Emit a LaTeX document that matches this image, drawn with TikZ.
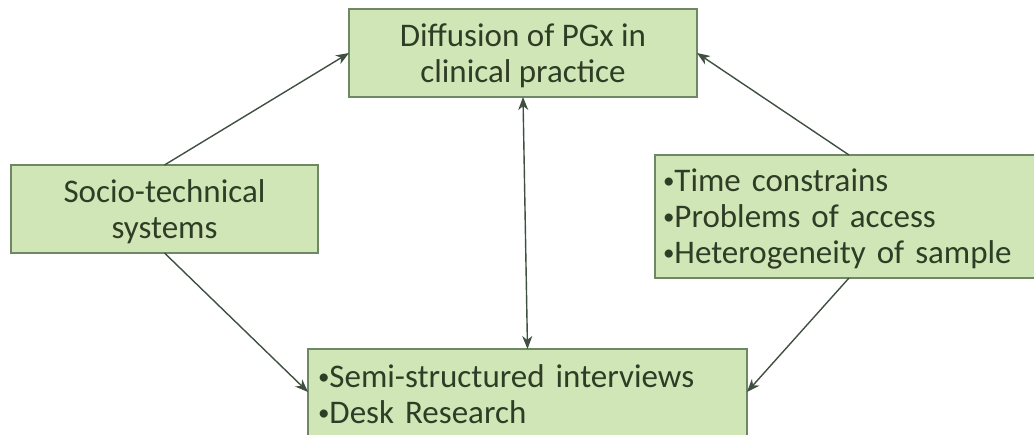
\documentclass[tikz,border=0pt]{standalone}
\usepackage{fontspec}
\setmainfont{Carlito}
\usetikzlibrary{arrows.meta,calc}
\definecolor{boxfill}{HTML}{D1E6B6}
\definecolor{boxline}{HTML}{6E8764}
\definecolor{ink}{HTML}{2E3D25}
\definecolor{linkc}{HTML}{3F4F40}
\newcommand{\boxtext}{\fontsize{33}{36}\selectfont}
% small list bullet, set a little above the baseline
\newcommand{\dotmark}{{\fontsize{23}{0}\selectfont\raisebox{2.5pt}{•}}}
\begin{document}
\begin{tikzpicture}[x=1pt,y=-1pt,
  box/.style={draw=boxline, line width=1.5pt, fill=boxfill, text=ink,
              inner sep=0pt, outer sep=0pt, font=\boxtext},
  tip/.tip={Stealth[length=13pt,width=10pt,inset=4pt]},
  link/.style={draw=linkc, line width=1.4pt, -tip},
]
\useasboundingbox (0,0) rectangle (1034,435);
\clip (0,0) rectangle (1034,435);

% boxes
\node[box, minimum width=348pt, minimum height=88pt, align=center]
  (diff) at (523,53) {\rule{0pt}{28pt}Diffusion of PGx in\\clinical practice};
\node[box, minimum width=307pt, minimum height=88pt, align=center]
  (soc) at (164.5,209) {\rule{0pt}{28pt}Socio-technical\\systems};
\node[box, minimum width=388pt, minimum height=123pt, inner xsep=8pt,
      text width=372pt, align=left]
  (lim) at (849,216.5) {\rule{0pt}{27pt}\dotmark Time constrains\\\dotmark Problems of access\\\dotmark Heterogeneity of sample};
\node[box, minimum width=439pt, minimum height=90pt, inner xsep=10pt,
      text width=419pt, align=left]
  (field) at (527.5,394) {\dotmark Semi-structured interviews\\\dotmark Desk Research};

% connectors
\draw[link] (soc.north) -- (diff.west);
\draw[link] (soc.south) -- ($(field.north west)+(0,43)$);
\draw[link] (lim.north) -- (diff.east);
\draw[link] (lim.south) -- ($(field.north east)+(0,43)$);
\draw[link, tip-tip] (diff.south) -- (field.north);
\end{tikzpicture}
\end{document}
